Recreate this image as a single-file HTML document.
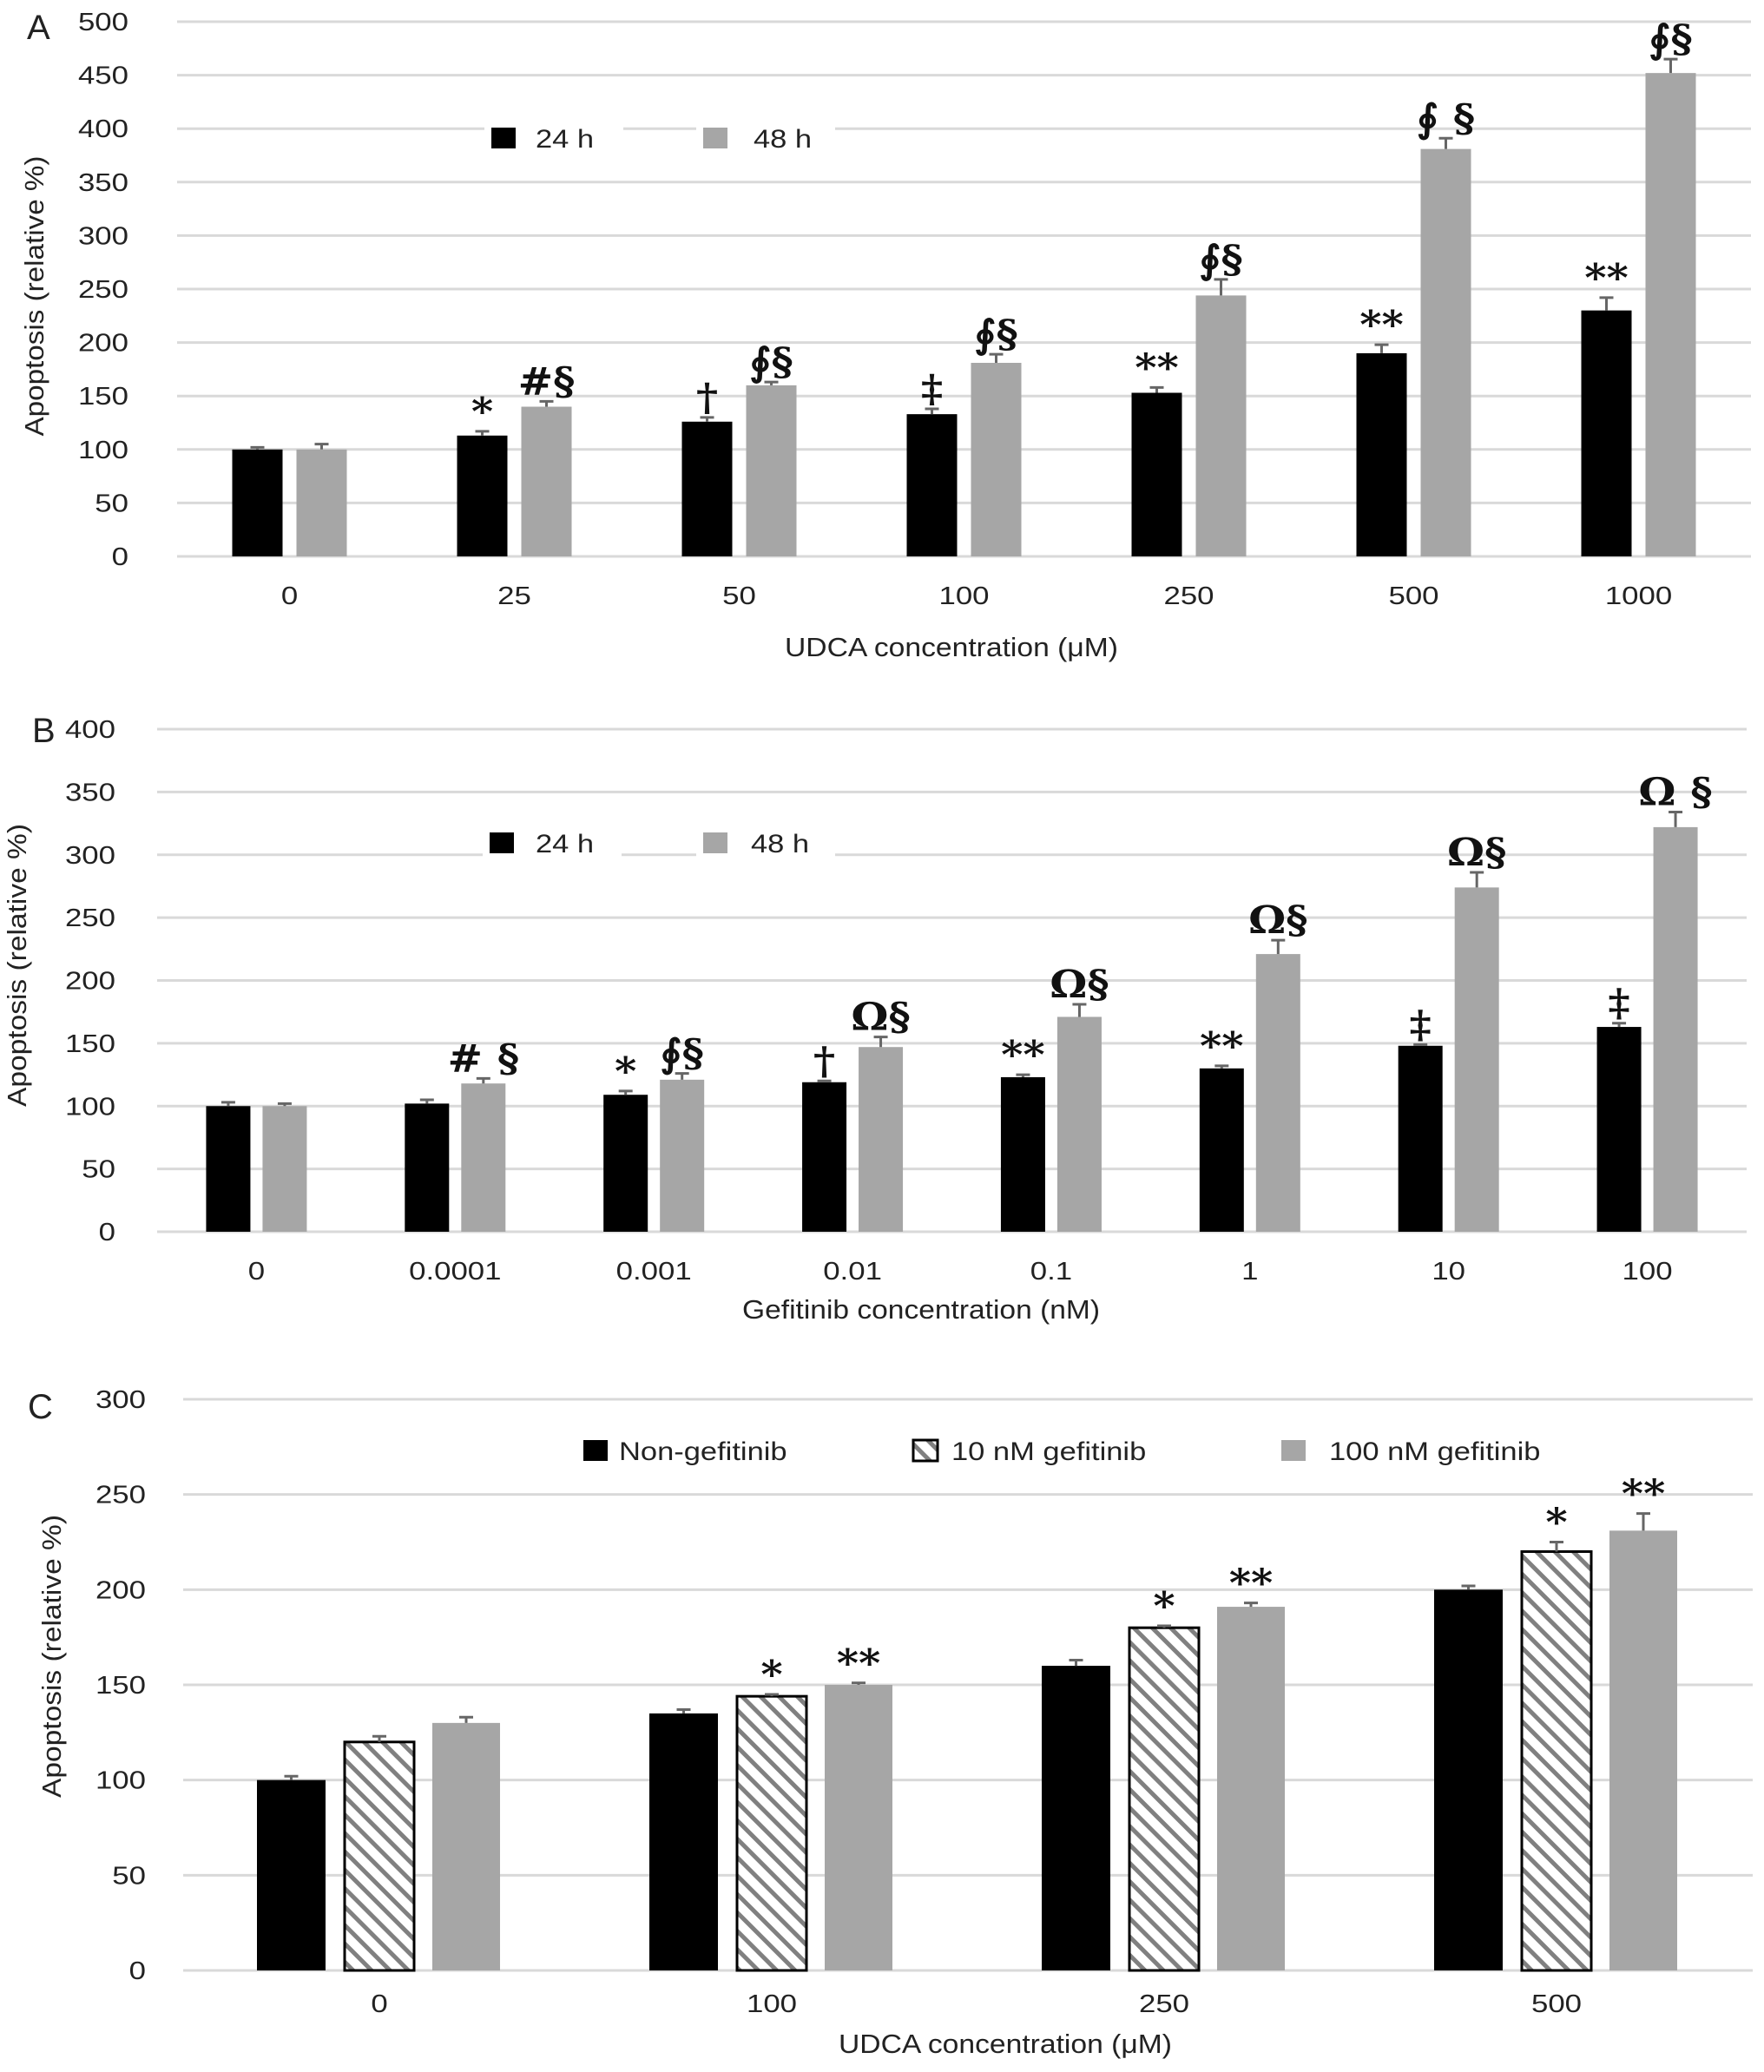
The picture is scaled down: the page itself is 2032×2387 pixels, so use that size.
<!DOCTYPE html>
<html><head><meta charset="utf-8">
<style>
html,body{margin:0;padding:0;background:#fff;}
svg{display:block;}
text{font-family:"Liberation Sans",sans-serif;fill:#222;}
.ann{font-family:"DejaVu Serif","Liberation Serif",serif;font-weight:bold;fill:#111;}
</style></head>
<body>
<svg id="fig" width="2032" height="2387" viewBox="0 0 2032 2387" xmlns="http://www.w3.org/2000/svg">
<defs>
<pattern id="hatch" patternUnits="userSpaceOnUse" width="15" height="15" patternTransform="rotate(-45)">
<rect width="15" height="15" fill="#fff"/>
<rect x="0" y="0" width="5" height="15" fill="#808080"/>
</pattern>
</defs>
</svg>
<script>
// ---------- Panel A data ----------
const catsA = ["0","25","50","100","250","500","1000"];
const a24 = [100,113,126,133,153,190,230];
const a48 = [100,140,160,181,244,381,452];
const a24err = [2,4,4,5,5,8,12];
const a48err = [5,5,3,8,15,10,13];
const a24ann = ["","*","†","‡","**","**","**"];
const a48ann = ["","#§","∮§","∮§","∮§","∮ §","∮§"];
const ticksA = [0,50,100,150,200,250,300,350,400,450,500];
// ---------- Panel B data ----------
const catsB = ["0","0.0001","0.001","0.01","0.1","1","10","100"];
const b24 = [100,102,109,119,123,130,148,163];
const b48 = [100,118,121,147,171,221,274,322];
const b24err = [3,3,3,1,2,2,1,3];
const b48err = [2,4,5,8,10,11,12,12];
const b24ann = ["","","*","†","**","**","‡","‡"];
const b48ann = ["","# §","∮§","Ω§","Ω§","Ω§","Ω§","Ω §"];
const ticksB = [0,50,100,150,200,250,300,350,400];
// ---------- Panel C data ----------
const catsC = ["0","100","250","500"];
const cNon = [100,135,160,200];
const c10 = [120,144,180,220];
const c100 = [130,150,191,231];
const cNonErr = [2,2,3,2];
const c10Err = [3,1,1,5];
const c100Err = [3,1,2,9];
const c10ann = ["","*","*","*"];
const c100ann = ["","**","**","**"];
const ticksC = [0,50,100,150,200,250,300];

const svg = document.getElementById('fig');
const NS = "http://www.w3.org/2000/svg";
function mk(tag, attrs, parent){
  const e = document.createElementNS(NS, tag);
  for (const k in attrs) e.setAttribute(k, attrs[k]);
  (parent||svg).appendChild(e);
  return e;
}
function txt(s, x, y, size, anchor, parent, cls, sx){
  const t = mk('text', {x:0, y:0, 'font-size':size, 'text-anchor':anchor||'start',
    transform:`translate(${x},${y}) scale(${sx||1.2},1)`}, parent);
  if (cls) t.setAttribute('class', cls);
  t.textContent = s;
  return t;
}

function panel(cfg){
  const g = mk('g', {});
  
  
  const x0 = cfg.left, x1 = cfg.right;
  const yScale = v => cfg.zeroY - v * (cfg.zeroY - cfg.topY) / cfg.maxV;
  const groupW = (x1 - x0) / cfg.cats.length;
  const xCenter = i => x0 + groupW * (i + 0.5);
  cfg.ticks.forEach(t => {
    const y = yScale(t);
    const l = mk('line', {x1:x0, x2:x1, y1:y, y2:y, stroke:'#d9d9d9', 'stroke-width':3}, g);
    
    
    const lab = txt(String(t), cfg.tickX, y + 10, 29, 'end', g);
    
    
  });
  cfg.legend.forEach(L => {
    mk('rect', {x:L.bx - 8, y:L.y - 20, width:L.w, height:40, fill:'#fff'}, g);
    const sw = mk('rect', {x:L.bx, y:L.y - 13, width:28, height:24, fill:L.fill,
      stroke:L.stroke||'none', 'stroke-width':3}, g);
    
    
    const lt = txt(L.label, L.tx, L.y + 10, 30, 'start', g, null, 1.15);
    
    
  });
  cfg.series.forEach(S => {
    cfg.cats.forEach((c, i) => {
      const cx = xCenter(i);
      const bx = cx + S.off;
      const yt = yScale(S.vals[i]);
      const b = mk('rect', {x:bx, y:yt, width:S.w, height:yScale(0) - yt, fill:S.fill,
        stroke:S.stroke||'none', 'stroke-width':S.stroke?3:0}, g);
      
      
      const ex = bx + S.w / 2;
      const ye = yScale(S.vals[i] + S.err[i]);
      const eb = mk('path', {d:`M${ex},${yt} V${ye} M${ex-8},${ye} H${ex+8}`, stroke:'#666', 'stroke-width':3, fill:'none'}, g);
      
      
      if (S.ann && S.ann[i]) {
        const a = txt(S.ann[i], ex, ye - 8, 44, 'middle', g, 'ann', 1.1);
        
        
      }
    });
  });
  cfg.cats.forEach((c, i) => {
    const t = txt(c, xCenter(i), cfg.catY + 10, 29, 'middle', g);
    
    
  });
  const xt = mk('text', {x:cfg.xTitle.x, y:cfg.xTitle.y + 10, 'font-size':31, textLength:cfg.xTitle.len, lengthAdjust:'spacingAndGlyphs'}, g);
  xt.textContent = cfg.xTitle.text;
  
  
  const yt = mk('text', {x:0, y:0, 'font-size':31, 'text-anchor':'middle', textLength:cfg.yTitle.len, lengthAdjust:'spacingAndGlyphs',
    transform:`translate(${cfg.yTitle.x + 10},${cfg.yTitle.y}) rotate(-90)`}, g);
  yt.textContent = "Apoptosis (relative %)";
  
  
  const pl = txt(cfg.letter.t, cfg.letter.x, cfg.letter.y + 15, 40, 'start', g, null, 1.0);
  
  
}

panel({
  name:'panel-a', cats:catsA, left:204, right:2017, zeroY:641, topY:25, maxV:500, ticks:ticksA, tickX:148,
  catY:686,
  legend:[{bx:566, y:160, w:160, fill:'#000', label:'24 h', tx:617},
          {bx:810, y:160, w:160, fill:'#a6a6a6', label:'48 h', tx:868}],
  series:[{key:'24h', vals:a24, err:a24err, ann:a24ann, off:-66, w:58, fill:'#000'},
          {key:'48h', vals:a48, err:a48err, ann:a48ann, off:8, w:58, fill:'#a6a6a6'}],
  xTitle:{text:'UDCA concentration (μM)', x:904, y:746, len:384},
  yTitle:{x:40, y:341, len:323},
  letter:{t:'A', x:31, y:30}
});
panel({
  name:'panel-b', cats:catsB, left:181, right:2012, zeroY:1419, topY:840, maxV:400, ticks:ticksB, tickX:133,
  catY:1464,
  legend:[{bx:564, y:972, w:160, fill:'#000', label:'24 h', tx:617},
          {bx:810, y:972, w:160, fill:'#a6a6a6', label:'48 h', tx:865}],
  series:[{key:'24h', vals:b24, err:b24err, ann:b24ann, off:-58, w:51, fill:'#000'},
          {key:'48h', vals:b48, err:b48err, ann:b48ann, off:7, w:51, fill:'#a6a6a6'}],
  xTitle:{text:'Gefitinib concentration (nM)', x:855, y:1509, len:412},
  yTitle:{x:20, y:1112, len:326},
  letter:{t:'B', x:37, y:840}
});
panel({
  name:'panel-c', cats:catsC, left:211, right:2019, zeroY:2270, topY:1612, maxV:300, ticks:ticksC, tickX:168,
  catY:2308,
  legend:[{bx:672, y:1672, w:1, fill:'#000', label:'Non-gefitinib', tx:713},
          {bx:1052, y:1672, w:1, fill:'url(#hatch)', stroke:'#000', label:'10 nM gefitinib', tx:1096},
          {bx:1476, y:1672, w:1, fill:'#a6a6a6', label:'100 nM gefitinib', tx:1531}],
  series:[{key:'non-gefitinib', vals:cNon, err:cNonErr, ann:null, off:-141, w:79, fill:'#000'},
          {key:'10nm', vals:c10, err:c10Err, ann:c10ann, off:-40, w:80, fill:'url(#hatch)', stroke:'#000'},
          {key:'100nm', vals:c100, err:c100Err, ann:c100ann, off:61, w:78, fill:'#a6a6a6'}],
  xTitle:{text:'UDCA concentration (μM)', x:966, y:2355, len:384},
  yTitle:{x:60, y:1908, len:326},
  letter:{t:'C', x:32, y:1619}
});
</script>
</body></html>
